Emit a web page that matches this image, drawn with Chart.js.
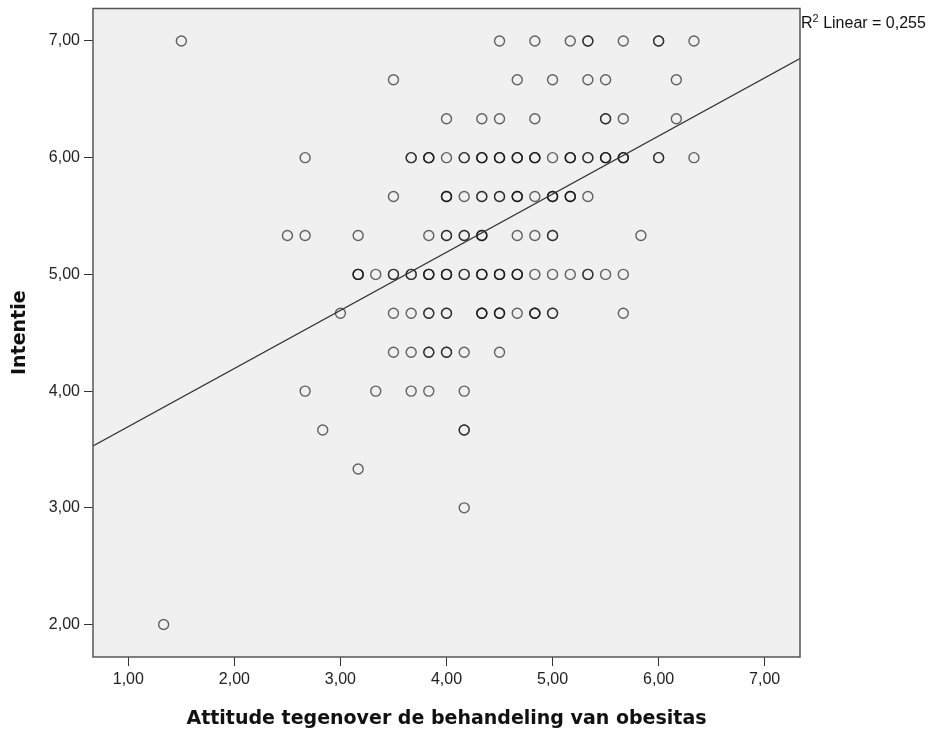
<!DOCTYPE html>
<html>
<head>
<meta charset="utf-8">
<script src="https://cdn.jsdelivr.net/npm/chart.js@4.4.1/dist/chart.umd.min.js"></script>
<style>
    body { margin: 0; background: #ffffff; }
    #wrap { position: relative; width: 933px; height: 735px; }
    #rsq {
        position: absolute; left: 801px; top: 14px;
        font-family: "Liberation Sans", Arial, sans-serif; font-size: 16px; color: #111;
        white-space: nowrap;
    }
    #rsq sup { font-size: 11px; vertical-align: 6px; line-height: 0; }
</style>
</head>
<body>
<div id="wrap">
    <canvas id="scatterChart" width="933" height="735"></canvas>
    <div id="rsq">R<sup>2</sup> Linear = 0,255</div>
</div>
<script>
// Intentie levels (y) and the attitude scores (x) found on each level.
// A value repeated means several respondents on the same spot.
const intentieLevels = [7.0, 6.667, 6.333, 6.0, 5.667, 5.333, 5.0, 4.667, 4.333, 4.0, 3.667, 3.333, 3.0, 2.0];
const attitudeByLevel = [
    [1.5, 4.5, 4.833, 5.167, 5.333, 5.333, 5.667, 6.0, 6.0, 6.333],
    [3.5, 4.667, 5.0, 5.333, 5.5, 6.167],
    [4.0, 4.333, 4.5, 4.833, 5.5, 5.5, 5.667, 6.167],
    [2.667, 3.667, 3.667, 3.833, 3.833, 3.833, 4.0, 4.167, 4.167, 4.333, 4.333, 4.333, 4.5, 4.5, 4.5,
        4.667, 4.667, 4.667, 4.833, 4.833, 4.833, 5.0, 5.167, 5.167, 5.167, 5.333, 5.333,
        5.5, 5.5, 5.5, 5.667, 5.667, 5.667, 6.0, 6.0, 6.333],
    [3.5, 4.0, 4.0, 4.0, 4.167, 4.333, 4.333, 4.5, 4.5, 4.667, 4.667, 4.667, 4.833,
        5.0, 5.0, 5.0, 5.167, 5.167, 5.167, 5.333],
    [2.5, 2.667, 3.167, 3.833, 4.0, 4.0, 4.167, 4.167, 4.333, 4.333, 4.333, 4.667, 4.833, 5.0, 5.0, 5.833],
    [3.167, 3.167, 3.167, 3.333, 3.5, 3.5, 3.667, 3.667, 3.833, 3.833, 3.833, 4.0, 4.0, 4.0,
        4.167, 4.167, 4.333, 4.333, 4.333, 4.5, 4.5, 4.5, 4.667, 4.667, 4.667,
        4.833, 5.0, 5.167, 5.333, 5.333, 5.5, 5.667],
    [3.0, 3.5, 3.667, 3.833, 3.833, 4.0, 4.0, 4.333, 4.333, 4.333, 4.5, 4.5, 4.5, 4.667,
        4.833, 4.833, 4.833, 5.0, 5.0, 5.667],
    [3.5, 3.667, 3.833, 3.833, 4.0, 4.0, 4.167, 4.5],
    [2.667, 3.333, 3.667, 3.833, 4.167],
    [2.833, 4.167, 4.167],
    [3.167],
    [4.167],
    [1.333]
];

// fit line, read at the left and right edge of the plot
const fitAttitude = [0.667, 7.333];
const fitIntentie = [3.53, 6.85];

const xTicks = [1, 2, 3, 4, 5, 6, 7];
const yTicks = [2, 3, 4, 5, 6, 7];


const points = [];
intentieLevels.forEach((level, i) => {
    attitudeByLevel[i].forEach(x => points.push({ x: x, y: level }));
});
const fitPoints = fitAttitude.map((x, i) => ({ x: x, y: fitIntentie[i] }));

const commaLabel = v => v.toFixed(2).replace(".", ",");

// grey plot background and frame, like SPSS
const plotFrame = {
    id: "plotFrame",
    beforeDatasetsDraw(chart) {
        const { ctx, chartArea: a } = chart;
        ctx.save();
        ctx.fillStyle = "#f0f0f0";
        ctx.fillRect(a.left, a.top, a.right - a.left, a.bottom - a.top);
        ctx.restore();
    },
    afterDatasetsDraw(chart) {
        const { ctx, chartArea: a } = chart;
        ctx.save();
        ctx.strokeStyle = "#555555";
        ctx.lineWidth = 1.5;
        ctx.strokeRect(a.left, a.top, a.right - a.left, a.bottom - a.top);
        ctx.restore();
    }
};

// no extra room for half tick labels, the plot box is fixed
const noLabelPadding = scale => {
    scale.paddingTop = 0;
    scale.paddingBottom = 0;
    scale.paddingLeft = 0;
    scale.paddingRight = 0;
};

const tickFont = { family: "'Liberation Sans', Arial, sans-serif", size: 16 };
const titleFont = { family: "'DejaVu Sans', sans-serif", size: 19, weight: "bold" };

new Chart(document.querySelector("#scatterChart"), {
    type: "scatter",
    data: {
        datasets: [
            {
                label: "Intentie",
                data: points,
                pointRadius: 5,
                pointHoverRadius: 5,
                pointBorderWidth: 1.4,
                borderColor: "rgba(20, 20, 20, 0.65)",
                backgroundColor: "rgba(0, 0, 0, 0)",
                order: 2
            },
            {
                type: "line",
                label: "Linear",
                data: fitPoints,
                borderColor: "#333333",
                borderWidth: 1.3,
                pointRadius: 0,
                fill: false,
                order: 1
            }
        ]
    },
    options: {
        responsive: false,
        animation: false,
        layout: { padding: { top: 8.5, right: 133, bottom: 0, left: 0 } },
        plugins: {
            legend: { display: false },
            tooltip: { enabled: false }
        },
        scales: {
            x: {
                type: "linear",
                min: 0.667,
                max: 7.333,
                afterBuildTicks: scale => { scale.ticks = xTicks.map(v => ({ value: v })); },
                afterFit: scale => { scale.height = 78; noLabelPadding(scale); },
                border: { display: false },
                grid: { drawOnChartArea: false, drawTicks: true, tickLength: 9, color: "#333333" },
                ticks: { font: tickFont, color: "#222222", padding: 4, maxRotation: 0, callback: commaLabel },
                title: {
                    display: true,
                    text: "Attitude tegenover de behandeling van obesitas",
                    font: titleFont,
                    color: "#111111",
                    padding: { top: 0, bottom: 5 }
                }
            },
            y: {
                type: "linear",
                min: 1.722,
                max: 7.278,
                afterBuildTicks: scale => { scale.ticks = yTicks.map(v => ({ value: v })); },
                afterFit: scale => { scale.width = 93; noLabelPadding(scale); },
                border: { display: false },
                grid: { drawOnChartArea: false, drawTicks: true, tickLength: 9, color: "#333333" },
                ticks: { font: tickFont, color: "#222222", padding: 4, callback: commaLabel },
                title: {
                    display: true,
                    text: "Intentie",
                    font: titleFont,
                    color: "#111111",
                    padding: { top: 9, bottom: 0 }
                }
            }
        }
    },
    plugins: [plotFrame]
});
</script>
</body>
</html>
